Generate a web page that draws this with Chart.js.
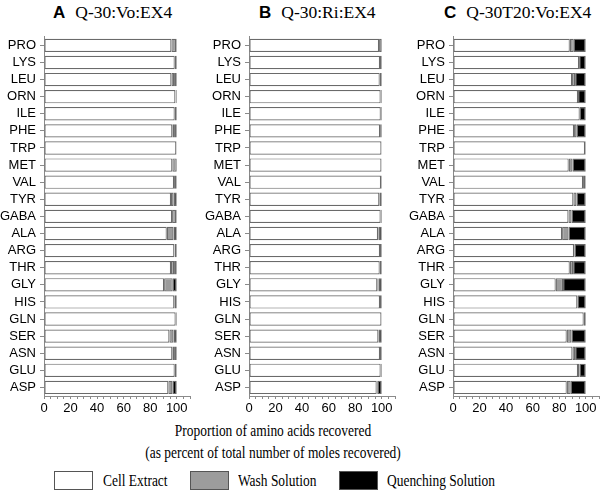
<!DOCTYPE html>
<html>
<head>
<meta charset="utf-8">
<script src="https://cdn.jsdelivr.net/npm/chart.js@4/dist/chart.umd.min.js"></script>
<style>
  body { margin: 0; background: #fff; width: 602px; height: 490px; position: relative; overflow: hidden; }
  canvas { position: absolute; top: 25px; }
  .ttl { position: absolute; top: 2px; white-space: nowrap; }
  .ttl b { font: bold 17px "Liberation Sans", Arial, sans-serif; margin-right: 10px; }
  .ttl span { font: 17.5px "Liberation Serif", "Times New Roman", serif; }
  .axt { position: absolute; left: 0; width: 546px; text-align: center; font: 16px "Liberation Serif", serif;
         transform: scaleX(0.84); transform-origin: 273px 0; white-space: nowrap; }
  .leg { position: absolute; top: 471px; height: 19px; box-sizing: border-box; border: 1px solid #555; }
  .legt { position: absolute; top: 471px; font: 16px "Liberation Serif", serif; line-height: 19px;
          transform: scaleX(0.84); transform-origin: 0 0; white-space: nowrap; }
</style>
</head>
<body>
<div class="ttl" style="left:53px"><b>A</b><span>Q-30:Vo:EX4</span></div>
<div class="ttl" style="left:259px"><b>B</b><span>Q-30:Ri:EX4</span></div>
<div class="ttl" style="left:444px"><b>C</b><span>Q-30T20:Vo:EX4</span></div>

<canvas id="chartA" width="200" height="395" style="left:0px"></canvas>
<canvas id="chartB" width="200" height="395" style="left:200px"></canvas>
<canvas id="chartC" width="202" height="395" style="left:400px"></canvas>

<div class="axt" style="top:422px">Proportion of amino acids recovered</div>
<div class="axt" style="top:444px">(as percent of total number of moles recovered)</div>

<div class="leg" style="left:54px;width:39px;background:#fff"></div>
<div class="legt" style="left:103px">Cell Extract</div>
<div class="leg" style="left:190px;width:39px;background:#9c9c9c"></div>
<div class="legt" style="left:238px">Wash Solution</div>
<div class="leg" style="left:339px;width:39px;background:#000"></div>
<div class="legt" style="left:387px">Quenching Solution</div>

<script>
// amino acids, top to bottom
const aminoAcids = ['PRO', 'LYS', 'LEU', 'ORN', 'ILE', 'PHE', 'TRP', 'MET', 'VAL', 'TYR', 'GABA',
  'ALA', 'ARG', 'THR', 'GLY', 'HIS', 'GLN', 'SER', 'ASN', 'GLU', 'ASP'];

// A: Q-30:Vo:EX4 (% of moles recovered)
const cellA   = [96, 98.5, 96, 99, 98.5, 96.7, 99.7, 96.7, 98, 95.7, 96.5, 92.5, 98.2, 95.7, 90.5, 98.2, 99.2, 94.5, 96.7, 98.5, 93.7];
const washA   = [3.5, 0, 2, 0.2, 0, 1.3, 0, 3.3, 1.5, 2, 3, 5, 0.3, 2.3, 6.5, 0, 0, 3, 1.3, 1, 3];
const quenchA = [0.5, 1.5, 2, 0.8, 1.5, 2, 0.3, 0, 0.5, 2.3, 0.5, 2.5, 1.5, 2, 3, 1.8, 0.8, 2.5, 2, 0.5, 3.3];

// B: Q-30:Ri:EX4
const cellB   = [98, 98.7, 98.5, 99.2, 99.3, 98.8, 99.8, 99.8, 99.5, 98.2, 99.2, 97.2, 98.7, 98.5, 96.7, 98.7, 99.8, 97.5, 98.7, 99.2, 96.2];
const washB   = [2, 0, 0, 0, 0, 0, 0, 0, 0, 0, 0, 0.5, 0, 0, 0.8, 0, 0, 0, 0, 0, 0.8];
const quenchB = [0, 1.3, 1.5, 0.8, 0.7, 1.2, 0.2, 0.2, 0.5, 1.8, 0.8, 2.3, 1.3, 1.5, 2.5, 1.3, 0.2, 2.5, 1.3, 0.8, 3];

// C: Q-30T20:Vo:EX4
const cellC   = [88, 95, 89.7, 94.2, 95.5, 91.2, 99.5, 87.2, 98, 90.7, 87, 82.2, 91.2, 88, 77.4, 93.7, 98.5, 85.7, 90, 94.2, 85.7];
const washC   = [3, 0, 2.3, 0, 0, 2, 0, 2.8, 1.5, 2.3, 2.3, 4.8, 0.5, 2.5, 5.5, 0, 0, 3.5, 2, 1, 3];
const quenchC = [9, 5, 8, 5.8, 4.5, 6.8, 0.5, 10, 0.5, 7, 10.7, 13, 8.3, 9.5, 17.1, 6.3, 1.5, 10.8, 8, 4.8, 11.3];

// x axis: labels every 20, small ticks every 5
const xMin = 0, xMax = 110, xStep = 5;
const xLabelEvery = 20, xLabelMax = 100;

const tickFont = { family: '"Liberation Sans", Arial, sans-serif', size: 13 };
const axisGrey = '#8a8a8a';

function makePanel(id, cell, wash, quench, yAxisWidth, padRight) {
  const ctx = document.getElementById(id).getContext('2d');
  const seg = (label, data, fill) => ({
    label, data,
    backgroundColor: fill,
    borderColor: '#6a6a6a',
    borderWidth: 1.2,
    borderSkipped: false,
    barPercentage: 0.78,
    categoryPercentage: 1
  });
  return new Chart(ctx, {
    type: 'bar',
    data: {
      labels: aminoAcids,
      datasets: [
        seg('Cell Extract', cell, '#ffffff'),
        seg('Wash Solution', wash, '#9c9c9c'),
        seg('Quenching Solution', quench, '#000000')
      ]
    },
    options: {
      indexAxis: 'y',
      responsive: false,
      animation: false,
      layout: { padding: { top: 5, right: padRight, left: 0, bottom: 0 } },
      plugins: { legend: { display: false }, tooltip: { enabled: false } },
      scales: {
        x: {
          stacked: true,
          min: xMin, max: xMax,
          afterFit: (s) => { s.height = 24; },
          ticks: {
            stepSize: xStep, autoSkip: false, maxRotation: 0, padding: 2,
            color: '#000', font: tickFont,
            callback: (v) => (v % xLabelEvery === 0 && v <= xLabelMax) ? v : ''
          },
          grid: { drawOnChartArea: false, drawTicks: true, tickLength: 3, color: axisGrey },
          border: { color: axisGrey, width: 1 }
        },
        y: {
          stacked: true,
          afterFit: (s) => { s.width = yAxisWidth; },
          ticks: { color: '#000', font: tickFont, padding: 4, autoSkip: false },
          grid: { offset: false, drawOnChartArea: false, drawTicks: true, tickLength: 4, color: axisGrey },
          border: { color: axisGrey, width: 1 }
        }
      }
    }
  });
}

makePanel('chartA', cellA, washA, quenchA, 44, 10);
makePanel('chartB', cellB, washB, quenchB, 49, 5);
makePanel('chartC', cellC, washC, quenchC, 53, 3);
</script>
</body>
</html>
